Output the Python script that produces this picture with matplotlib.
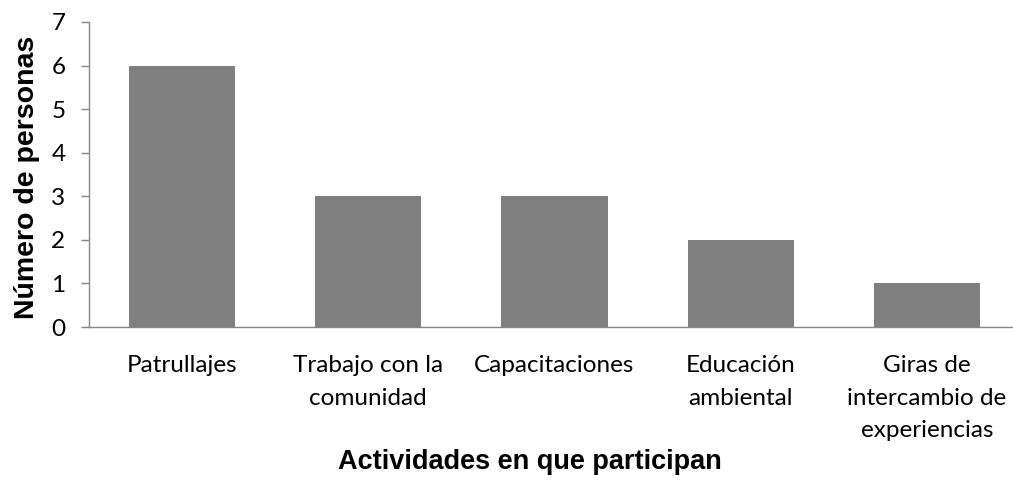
import matplotlib
matplotlib.use("Agg")
import matplotlib.pyplot as plt

categories = ["Patrullajes", "Trabajo con la\ncomunidad", "Capacitaciones",
              "Educación\nambiental", "Giras de\nintercambio de\nexperiencias"]
values = [6, 3, 3, 2, 1]
yticks = [0, 1, 2, 3, 4, 5, 6, 7]

fig = plt.figure(figsize=(10.13, 4.83), dpi=100)
ax = fig.add_axes([89/1013, 156/483, 931/1013, 305/483])
x = list(range(len(categories)))
ax.bar(x, values, width=0.57, color="#808080", zorder=2)
ax.set_xlim(-0.5, len(categories) - 0.5)
ax.set_ylim(0, 7)
ax.set_yticks(yticks)
ax.set_yticklabels([str(t) for t in yticks], fontsize=17.5, family="Lato")
ax.set_xticks(x)
ax.set_xticklabels(categories, fontsize=17.5, family="Lato", linespacing=1.66, va="top")
ax.tick_params(axis="x", length=0, pad=20.5)
ax.tick_params(axis="y", length=6, width=1, color="#868686", pad=11)
for s in ["top", "right"]:
    ax.spines[s].set_visible(False)
for s in ["left", "bottom"]:
    ax.spines[s].set_color("#868686")
    ax.spines[s].set_linewidth(1)
ax.spines["bottom"].set_clip_on(False)
ax.set_ylabel("Número de personas", fontsize=20.5, fontweight="bold", family="Liberation Sans")
ax.yaxis.set_label_coords(-0.053, 0.49)
fig.text(0.523, 0.043, "Actividades en que participan", fontsize=19.5, fontweight="bold",
         family="Liberation Sans", ha="center", va="center")
fig.savefig("out.png", dpi=100)
